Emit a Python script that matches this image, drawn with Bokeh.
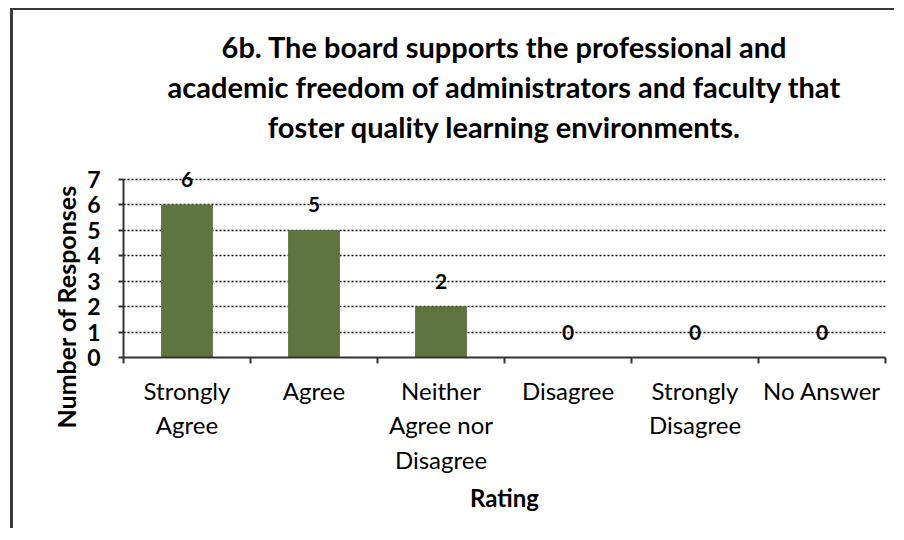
import numpy as np
from bokeh.plotting import figure
from bokeh.models import FixedTicker, Title, Range1d, ColumnDataSource
from bokeh.core.properties import value
from bokeh.embed import file_html
from bokeh.resources import INLINE

categories = ["Strongly\nAgree", "Agree", "Neither\nAgree nor\nDisagree",
              "Disagree", "Strongly\nDisagree", "No Answer"]
responses = [6, 5, 2, 0, 0, 0]
y_ticks = [0, 1, 2, 3, 4, 5, 6, 7]
title_lines = ["6b. The board supports the professional and",
               "academic freedom of administrators and faculty that",
               "foster quality learning environments."]
x_title = "Rating"
y_title = "Number of Responses"

FONT = "Lato"
BAR = "#5e7540"
AX = "#333333"

n = len(categories)
xs = np.arange(n) + 0.5
src = ColumnDataSource(dict(x=xs, top=responses,
                            lab_y=np.array(responses) + 1,
                            lab=[str(v) for v in responses]))

p = figure(width=884, height=520, output_backend="svg", toolbar_location=None,
           x_range=Range1d(0, n), y_range=Range1d(0, 8.38),
           title=None, min_border_left=110, min_border_right=12,
           min_border_bottom=173, min_border_top=134)
p.styles = {"margin-left": "10px", "margin-top": "8px",
            "border-left": "3px solid #3a3a3a", "border-top": "2px solid #3a3a3a"}

stand = [2, 4, 2]
for t, s in zip(reversed(title_lines), reversed(stand)):
    p.add_layout(Title(text=t, align="center", text_font=FONT, text_font_size="29px",
                       text_font_style="bold", text_color="black", standoff=s), "above")

p.add_layout(Title(text=y_title, align="left", offset=-71, text_font=FONT,
                   text_font_size="25px", text_font_style="bold", text_color="black",
                   standoff=7), "left")

p.outline_line_color = None
p.background_fill_color = "white"
p.border_fill_color = "white"

p.vbar(x="x", top="top", width=0.4, source=src, fill_color=BAR, line_color=BAR)
p.text(x="x", y="lab_y", text="lab", source=src, text_align="center",
       text_baseline="middle", text_font=value(FONT), text_font_size="21px",
       text_font_style="bold", text_color="black")

p.xgrid.grid_line_color = None
p.ygrid.ticker = FixedTicker(ticks=y_ticks)
p.ygrid.grid_line_color = "black"
p.ygrid.grid_line_dash = "2 2"
p.ygrid.grid_line_width = 1.4
p.ygrid.level = "underlay"

xa = p.xaxis[0]
xa.ticker = FixedTicker(ticks=list(xs), minor_ticks=list(range(n + 1)))
xa.major_label_overrides = {float(x): c for x, c in zip(xs, categories)}
xa.major_tick_line_color = None
xa.minor_tick_line_color = AX
xa.minor_tick_line_width = 2
xa.minor_tick_out = 6
xa.minor_tick_in = 0
xa.axis_line_color = AX
xa.axis_line_width = 2
xa.major_label_text_font = FONT
xa.major_label_text_font_size = "24px"
xa.major_label_text_color = "black"
xa.major_label_standoff = 12
xa.axis_label = x_title
xa.axis_label_text_font = FONT
xa.axis_label_text_font_size = "24px"
xa.axis_label_text_font_style = "bold"
xa.axis_label_text_color = "black"
xa.axis_label_standoff = 6

ya = p.yaxis[0]
ya.ticker = FixedTicker(ticks=y_ticks)
ya.bounds = (0, max(y_ticks))
ya.minor_tick_line_color = None
ya.major_tick_line_color = AX
ya.major_tick_line_width = 2
ya.major_tick_out = 5
ya.major_tick_in = 0
ya.axis_line_color = AX
ya.axis_line_width = 2
ya.major_label_text_font = FONT
ya.major_label_text_font_size = "23px"
ya.major_label_text_font_style = "bold"
ya.major_label_text_color = "black"
ya.major_label_standoff = 18

open("out.html", "w").write(file_html(p, INLINE))
